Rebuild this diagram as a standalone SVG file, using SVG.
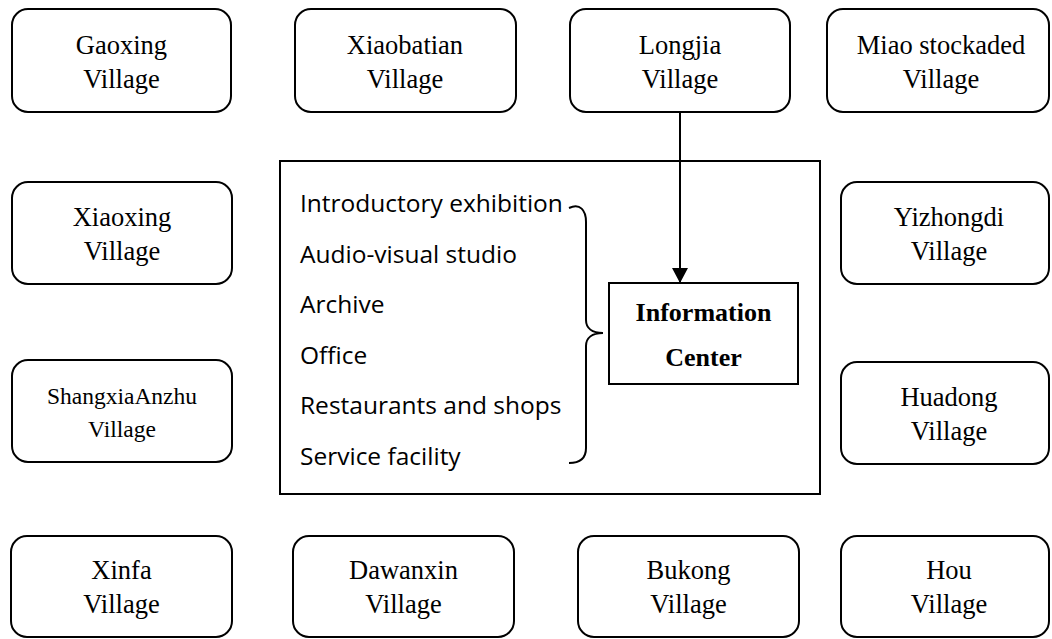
<svg xmlns="http://www.w3.org/2000/svg" width="1052" height="639" viewBox="0 0 1052 639">
<style>
.v{fill:#fff;stroke:#000;stroke-width:2}
.t{font-family:"Liberation Serif","Times New Roman",serif;font-size:26.5px;fill:#000;text-anchor:middle}
.ts{font-size:23.5px}
.l{font-family:"Open Sans","Liberation Sans",sans-serif;font-size:24.5px;fill:#000}
.b{font-family:"Liberation Serif","Times New Roman",serif;font-size:26px;font-weight:bold;fill:#000;text-anchor:middle}
.c{fill:none;stroke:#000;stroke-width:2}
</style>
<defs>
<marker id="ah" markerWidth="16" markerHeight="16" refX="15" refY="8" orient="auto" markerUnits="userSpaceOnUse">
<path d="M0,0 L15,8 L0,16 Z" fill="#000"/>
</marker>
</defs>
<rect width="1052" height="639" fill="#fff"/>

<g id="info-area">
<rect x="280" y="161" width="540" height="333" class="c"/>
<text class="l" x="300" y="212">Introductory exhibition</text>
<text class="l" x="300" y="263">Audio-visual studio</text>
<text class="l" x="300" y="313">Archive</text>
<text class="l" x="300" y="364">Office</text>
<text class="l" x="300" y="414">Restaurants and shops</text>
<text class="l" x="300" y="465">Service facility</text>
<path class="c" d="M569,208 C580,203 586,210 586,222 L586,320 C586,328 592,333 603,333 C592,333 586,338 586,346 L586,448 C586,458 580,463 569,463"/>
</g>

<g id="information-center">
<rect x="609" y="283" width="189" height="101" class="c"/>
<text class="b" x="703.5" y="321">Information</text>
<text class="b" x="703.5" y="366">Center</text>
</g>

<g id="gaoxing"><rect class="v" x="12" y="9" width="219" height="103" rx="16"/><text class="t" x="121.5" y="54">Gaoxing</text><text class="t" x="121.5" y="88">Village</text></g>
<g id="xiaobatian"><rect class="v" x="295" y="9" width="221" height="103" rx="16"/><text class="t" x="405" y="54">Xiaobatian</text><text class="t" x="405" y="88">Village</text></g>
<g id="longjia"><rect class="v" x="570" y="9" width="220" height="103" rx="16"/><text class="t" x="680" y="54">Longjia</text><text class="t" x="680" y="88">Village</text></g>
<g id="miao"><rect class="v" x="827" y="9" width="222" height="103" rx="16"/><text class="t" x="941" y="54">Miao stockaded</text><text class="t" x="941" y="88">Village</text></g>

<g id="xiaoxing"><rect class="v" x="12" y="182" width="220" height="102" rx="16"/><text class="t" x="122" y="226">Xiaoxing</text><text class="t" x="122" y="260">Village</text></g>
<g id="shangxiaanzhu"><rect class="v" x="12" y="360" width="220" height="102" rx="16"/><text class="t ts" x="122" y="404">ShangxiaAnzhu</text><text class="t ts" x="122" y="437">Village</text></g>

<g id="yizhongdi"><rect class="v" x="841" y="182" width="208" height="102" rx="16"/><text class="t" x="949" y="226">Yizhongdi</text><text class="t" x="949" y="260">Village</text></g>
<g id="huadong"><rect class="v" x="841" y="362" width="208" height="102" rx="16"/><text class="t" x="949" y="406">Huadong</text><text class="t" x="949" y="440">Village</text></g>

<g id="xinfa"><rect class="v" x="11" y="536" width="221" height="101" rx="16"/><text class="t" x="121.5" y="579">Xinfa</text><text class="t" x="121.5" y="613">Village</text></g>
<g id="dawanxin"><rect class="v" x="293" y="536" width="221" height="101" rx="16"/><text class="t" x="403.5" y="579">Dawanxin</text><text class="t" x="403.5" y="613">Village</text></g>
<g id="bukong"><rect class="v" x="578" y="536" width="221" height="101" rx="16"/><text class="t" x="688.5" y="579">Bukong</text><text class="t" x="688.5" y="613">Village</text></g>
<g id="hou"><rect class="v" x="841" y="536" width="208" height="101" rx="16"/><text class="t" x="949" y="579">Hou</text><text class="t" x="949" y="613">Village</text></g>

<g id="connectors">
<line x1="680" y1="112" x2="680" y2="283" stroke="#000" stroke-width="2" marker-end="url(#ah)"/>
</g>
</svg>
